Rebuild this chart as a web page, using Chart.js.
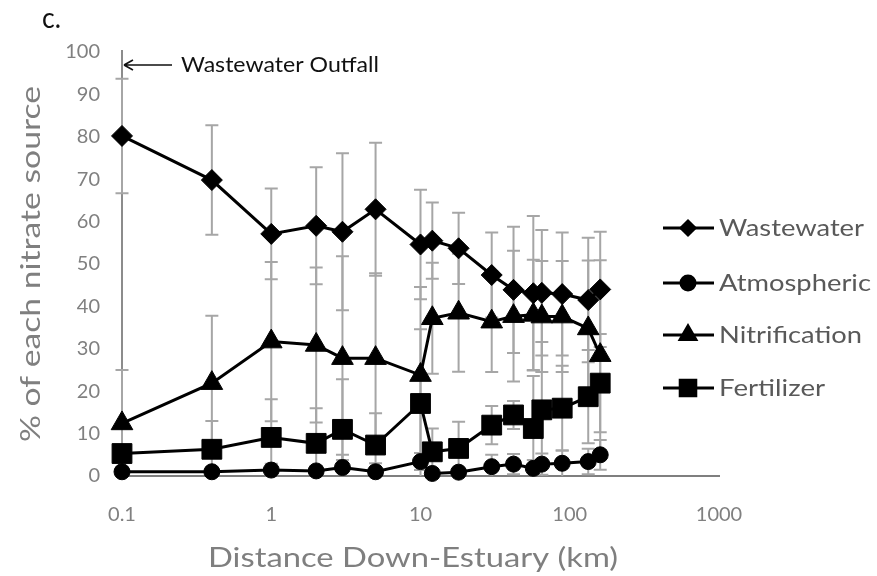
<!DOCTYPE html>
<html>
<head>
<meta charset="utf-8">
<script src="https://cdn.jsdelivr.net/npm/chart.js@4"></script>
<style>
html,body{margin:0;padding:0;background:#fff;}
#wrap{width:877px;height:576px;position:relative;}
</style>
</head>
<body>
<div id="wrap"><canvas id="c" width="877" height="576"></canvas></div>
<script>
// ---- data ----
const distances = [0.1, 0.4, 1, 2, 3, 5, 10, 12, 18, 30, 42, 57, 65, 89, 133, 160];
const wastewater = [80.2, 69.8, 57.1, 59.0, 57.6, 62.9, 54.6, 55.5, 53.7, 47.4, 43.9, 43.1, 43.2, 42.9, 41.5, 44.0];
const atmospheric = [1.0, 1.0, 1.4, 1.2, 2.0, 1.0, 3.4, 0.6, 0.9, 2.2, 2.8, 1.8, 2.8, 3.0, 3.4, 5.0];
const nitrification = [12.4, 21.9, 31.7, 30.9, 27.8, 27.8, 23.8, 37.2, 38.5, 36.4, 37.7, 38.0, 37.6, 37.6, 34.8, 28.5];
const fertilizer = [5.3, 6.3, 9.1, 7.7, 11.0, 7.3, 17.1, 5.7, 6.5, 12.0, 14.4, 11.2, 15.6, 16.0, 18.7, 21.9];
const wastewaterErr = [13.5, 12.9, 10.7, 13.8, 18.5, 15.7, 12.9, 9.0, 8.4, 10.0, 14.9, 18.2, 14.8, 14.5, 14.7, 13.6];
const atmosphericErr = [1.0, 1.0, 1.5, 1.0, 3.0, 2.0, 2.0, 1.0, 1.0, 2.8, 2.4, 2.0, 2.5, 3.0, 3.0, 3.5];
const nitrificationErr = [12.6, 15.9, 18.8, 18.3, 24.0, 20.0, 20.8, 13.1, 13.9, 11.9, 15.4, 13.0, 13.1, 13.1, 16.0, 22.4];
const fertilizerErr = [2.0, 6.7, 9.0, 8.3, 11.8, 7.5, 17.5, 5.5, 6.3, 4.5, 3.3, 12.4, 16.0, 10.0, 11.0, 11.6];
const xTickValues = [0.1, 1, 10, 100, 1000];
const seriesNames = ['Wastewater', 'Atmospheric', 'Nitrification', 'Fertilizer'];
const outfallX = 0.1;

const FONT = 'Lato, "Open Sans", sans-serif';

function pts(vals) { return distances.map((d, i) => ({x: d, y: vals[i]})); }

const styles = [
  {pointStyle: 'rectRot', radius: 10.5, legendRadius: 7},
  {pointStyle: 'circle', radius: 8, legendRadius: 7},
  {pointStyle: 'triangle', radius: 12.5, legendRadius: 9},
  {pointStyle: 'rect', radius: 14, legendRadius: 11}
];
const allVals = [wastewater, atmospheric, nitrification, fertilizer];
const allErr = [wastewaterErr, atmosphericErr, nitrificationErr, fertilizerErr];

const datasets = seriesNames.map((name, k) => ({
  label: name,
  data: pts(allVals[k]),
  errors: allErr[k],
  borderColor: '#000',
  backgroundColor: '#000',
  borderWidth: 3,
  pointStyle: styles[k].pointStyle,
  pointRadius: styles[k].radius,
  pointBorderWidth: 1,
  pointBackgroundColor: '#000',
  pointBorderColor: '#000',
  tension: 0,
  clip: false
}));

// draw text stretched horizontally to a given width (left edge x, baseline y)
function fitText(ctx, text, x, y, width) {
  const w = ctx.measureText(text).width;
  ctx.save();
  ctx.translate(x, y);
  ctx.scale(width / w, 1);
  ctx.textAlign = 'left';
  ctx.fillText(text, 0, 0);
  ctx.restore();
}

const errorBarPlugin = {
  id: 'errorBars',
  beforeDatasetsDraw(chart) {
    const {ctx, scales: {x, y}} = chart;
    ctx.save();
    ctx.strokeStyle = '#a6a6a6';
    ctx.lineWidth = 2;
    chart.data.datasets.forEach(ds => {
      ds.data.forEach((p, i) => {
        const e = ds.errors[i];
        const px = x.getPixelForValue(p.x);
        const top = y.getPixelForValue(Math.min(100, p.y + e));
        const bot = y.getPixelForValue(Math.max(0, p.y - e));
        ctx.beginPath();
        ctx.moveTo(px, top); ctx.lineTo(px, bot);
        ctx.moveTo(px - 6.5, top); ctx.lineTo(px + 6.5, top);
        if (p.y - e > 0) { ctx.moveTo(px - 6.5, bot); ctx.lineTo(px + 6.5, bot); }
        ctx.stroke();
      });
    });
    ctx.restore();
  }
};

const decorPlugin = {
  id: 'decor',
  beforeDatasetsDraw(chart) {
    const {ctx, scales: {x, y}} = chart;
    ctx.save();
    const ox = x.getPixelForValue(outfallX);
    ctx.strokeStyle = '#8c8c8c';
    ctx.lineWidth = 2;
    ctx.beginPath();
    ctx.moveTo(ox, y.getPixelForValue(100) - 2);
    ctx.lineTo(ox, y.getPixelForValue(0));
    ctx.stroke();
    ctx.restore();
  },
  afterDraw(chart) {
    const {ctx, scales: {x}} = chart;
    ctx.save();
    ctx.textBaseline = 'alphabetic';
    // panel label
    ctx.fillStyle = '#111';
    ctx.font = '28px ' + FONT;
    fitText(ctx, 'c.', 42, 28, 19);
    // outfall annotation
    const ox = x.getPixelForValue(outfallX);
    ctx.strokeStyle = '#111';
    ctx.lineWidth = 1.6;
    ctx.beginPath();
    ctx.moveTo(ox + 2, 65); ctx.lineTo(ox + 50, 65);
    ctx.moveTo(ox + 2, 65); ctx.lineTo(ox + 11, 60);
    ctx.moveTo(ox + 2, 65); ctx.lineTo(ox + 11, 70);
    ctx.stroke();
    ctx.font = '22px ' + FONT;
    ctx.fillStyle = '#111';
    fitText(ctx, 'Wastewater Outfall', 181, 72, 198);
    // axis titles
    ctx.fillStyle = '#7f7f7f';
    ctx.font = '27px ' + FONT;
    fitText(ctx, 'Distance Down-Estuary (km)', 208, 567, 410);
    ctx.save();
    ctx.translate(40, 442);
    ctx.rotate(-Math.PI / 2);
    fitText(ctx, '% of each nitrate source', 0, 0, 356);
    ctx.restore();
    // legend
    const ly = [228, 283, 335, 388];
    const lw = [145, 152, 143, 106];
    ctx.font = '23px ' + FONT;
    seriesNames.forEach((name, k) => {
      ctx.strokeStyle = '#000';
      ctx.lineWidth = 3;
      ctx.beginPath();
      ctx.moveTo(663, ly[k]); ctx.lineTo(714, ly[k]);
      ctx.stroke();
      ctx.fillStyle = '#000';
      Chart.helpers.drawPoint(ctx, {pointStyle: styles[k].pointStyle, radius: styles[k].legendRadius, borderWidth: 1, rotation: 0}, 688, ly[k]);
      ctx.fillStyle = '#595959';
      fitText(ctx, name, 719, ly[k] + 8, lw[k]);
    });
    ctx.restore();
  }
};

new Chart(document.getElementById('c'), {
  type: 'line',
  data: {datasets},
  plugins: [decorPlugin, errorBarPlugin],
  options: {
    responsive: false,
    animation: false,
    devicePixelRatio: 1,
    layout: {padding: {left: 0, right: 158, top: 52, bottom: 0}},
    plugins: {legend: {display: false}, tooltip: {enabled: false}},
    scales: {
      x: {
        type: 'logarithmic',
        min: 0.1, max: 1000,
        afterBuildTicks(scale) { scale.ticks = xTickValues.map(v => ({value: v})); },
        afterFit(scale) { scale.height = 100; },
        grid: {display: false, drawTicks: false},
        border: {display: true, color: '#7f7f7f', width: 2},
        ticks: {
          padding: 27,
          color: '#808080',
          font: {family: FONT, size: 20},
          maxRotation: 0,
          autoSkip: false,
          callback: v => String(v)
        }
      },
      y: {
        min: 0, max: 100,
        afterFit(scale) { scale.width = 122; },
        grid: {display: false, drawTicks: false},
        border: {display: false},
        ticks: {
          stepSize: 10,
          padding: 22,
          color: '#808080',
          font: {family: FONT, size: 20}
        }
      }
    }
  }
});
</script>
</body>
</html>
